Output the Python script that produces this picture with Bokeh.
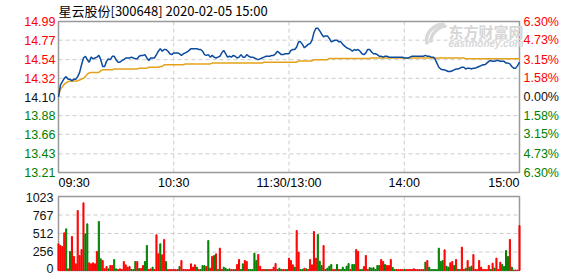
from bokeh.plotting import figure
from bokeh.models import Range1d, ColumnDataSource
from bokeh.layouts import column
from bokeh.embed import file_html
from bokeh.resources import INLINE
from bokeh.core.properties import value

# ---------------- data ----------------
title_text = "星云股份[300648] 2020-02-05 15:00"
prev_close = 14.10

price_ticks = [14.99, 14.77, 14.54, 14.32, 14.10, 13.88, 13.66, 13.43, 13.21]
price_labels = ["14.99", "14.77", "14.54", "14.32", "14.10", "13.88", "13.66", "13.43", "13.21"]
pct_labels = ["6.30%", "4.73%", "3.15%", "1.58%", "0.00%", "1.58%", "3.15%", "4.73%", "6.30%"]
label_side = ["up", "up", "up", "up", "flat", "down", "down", "down", "down"]

time_ticks = [0, 60, 120, 180, 240]
time_labels = ["09:30", "10:30", "11:30/13:00", "14:00", "15:00"]

vol_ticks = [1023, 767, 512, 256, 0]
vol_labels = ["1023", "767", "512", "256", "0"]

minutes = list(range(241))

price = [
    14.10, 14.24, 14.28, 14.32, 14.34, 14.31, 14.31, 14.29, 14.31, 14.31,
    14.34, 14.39, 14.48, 14.56, 14.58, 14.54, 14.51, 14.57, 14.55, 14.56,
    14.57, 14.59, 14.54, 14.46, 14.46, 14.52, 14.55, 14.54, 14.58, 14.58,
    14.54, 14.51, 14.51, 14.53, 14.54, 14.56, 14.56, 14.56, 14.57, 14.56,
    14.55, 14.55, 14.58, 14.59, 14.59, 14.60, 14.56, 14.53, 14.56, 14.56,
    14.56, 14.60, 14.64, 14.67, 14.64, 14.66, 14.66, 14.64, 14.61, 14.60,
    14.62, 14.62, 14.62, 14.61, 14.59, 14.61, 14.62, 14.63, 14.65, 14.67,
    14.67, 14.67, 14.67, 14.66, 14.66, 14.64, 14.60, 14.59, 14.60, 14.57,
    14.59, 14.57, 14.56, 14.57, 14.58, 14.62, 14.65, 14.61, 14.57, 14.58,
    14.57, 14.59, 14.58, 14.56, 14.57, 14.60, 14.57, 14.57, 14.60, 14.58,
    14.57, 14.57, 14.56, 14.55, 14.54, 14.55, 14.56, 14.57, 14.58, 14.58,
    14.58, 14.59, 14.59, 14.61, 14.64, 14.62, 14.60, 14.60, 14.61, 14.61,
    14.61, 14.65, 14.66, 14.66, 14.69, 14.75, 14.75, 14.72, 14.68, 14.70,
    14.72, 14.73, 14.77, 14.86, 14.91, 14.91, 14.88, 14.84, 14.81, 14.82,
    14.82, 14.79, 14.75, 14.76, 14.77, 14.77, 14.75, 14.75, 14.72, 14.70,
    14.68, 14.67, 14.66, 14.64, 14.66, 14.65, 14.66, 14.64, 14.61, 14.60,
    14.62, 14.66, 14.66, 14.63, 14.61, 14.61, 14.60, 14.58, 14.58, 14.57,
    14.58, 14.58, 14.57, 14.57, 14.57, 14.57, 14.57, 14.57, 14.57, 14.57,
    14.56, 14.56, 14.56, 14.57, 14.58, 14.58, 14.58, 14.58, 14.58, 14.58,
    14.58, 14.59, 14.58, 14.58, 14.57, 14.57, 14.55, 14.50, 14.45, 14.43,
    14.42, 14.42, 14.41, 14.40, 14.40, 14.41, 14.42, 14.43, 14.43, 14.44,
    14.45, 14.45, 14.43, 14.44, 14.44, 14.43, 14.44, 14.44, 14.45, 14.46,
    14.47, 14.48, 14.48, 14.50, 14.52, 14.53, 14.52, 14.52, 14.53, 14.53,
    14.52, 14.52, 14.52, 14.50, 14.50, 14.49, 14.46, 14.44, 14.44, 14.47, 14.51,
]

avg_price = [
    14.12, 14.19, 14.22, 14.25, 14.27, 14.28, 14.29, 14.29, 14.29, 14.29,
    14.29, 14.30, 14.31, 14.32, 14.34, 14.37, 14.385, 14.39, 14.39, 14.39,
    14.39, 14.39, 14.41, 14.42, 14.42, 14.42, 14.42, 14.42, 14.42, 14.43,
    14.43, 14.43, 14.43, 14.43, 14.43, 14.43, 14.43, 14.43, 14.43, 14.43,
    14.43, 14.43, 14.44, 14.44, 14.44, 14.44, 14.44, 14.45, 14.45, 14.45,
    14.45, 14.45, 14.45, 14.46, 14.46, 14.48, 14.48, 14.48, 14.48, 14.48,
    14.48, 14.48, 14.48, 14.48, 14.48, 14.48, 14.49, 14.49, 14.49, 14.49,
    14.49, 14.49, 14.49, 14.49, 14.49, 14.49, 14.49, 14.49, 14.49, 14.49,
    14.50, 14.50, 14.50, 14.50, 14.50, 14.50, 14.50, 14.50, 14.50, 14.50,
    14.50, 14.50, 14.50, 14.50, 14.50, 14.50, 14.50, 14.50, 14.50, 14.50,
    14.50, 14.50, 14.50, 14.50, 14.50, 14.50, 14.50, 14.51, 14.51, 14.51,
    14.51, 14.51, 14.51, 14.51, 14.51, 14.51, 14.51, 14.51, 14.51, 14.51,
    14.51, 14.51, 14.51, 14.51, 14.51, 14.525, 14.525, 14.525, 14.525, 14.525,
    14.525, 14.525, 14.525, 14.54, 14.54, 14.54, 14.54, 14.54, 14.54, 14.54,
    14.54, 14.555, 14.555, 14.555, 14.555, 14.555, 14.555, 14.555, 14.555, 14.555,
    14.555, 14.555, 14.555, 14.555, 14.555, 14.555, 14.555, 14.555, 14.555, 14.555,
    14.555, 14.555, 14.555, 14.56, 14.56, 14.56, 14.56, 14.56, 14.56, 14.56,
    14.56, 14.56, 14.56, 14.56, 14.56, 14.56, 14.56, 14.56, 14.56, 14.56,
    14.56, 14.56, 14.56, 14.56, 14.56, 14.56, 14.56, 14.56, 14.56, 14.56,
    14.56, 14.56, 14.56, 14.56, 14.56, 14.56, 14.56, 14.56, 14.56, 14.56,
    14.56, 14.56, 14.56, 14.56, 14.56, 14.56, 14.56, 14.56, 14.56, 14.56,
    14.56, 14.56, 14.55, 14.55, 14.55, 14.55, 14.55, 14.55, 14.55, 14.55,
    14.55, 14.55, 14.55, 14.55, 14.55, 14.55, 14.55, 14.55, 14.55, 14.55,
    14.55, 14.55, 14.55, 14.55, 14.55, 14.55, 14.55, 14.55, 14.55, 14.55, 14.55,
]

volume = [
    369, 346, 332, 521, 576, 23, 263, 470, 194, 92,
    829, 207, 290, 935, 507, 645, 106, 92, 106, 92,
    263, 677, 161, 138, 23, 55, 23, 69, 69, 152,
    23, 14, 23, 14, 124, 78, 46, 55, 14, 14,
    124, 124, 28, 28, 69, 124, 346, 14, 23, 46,
    14, 493, 230, 369, 217, 429, 124, 14, 14, 14,
    14, 14, 14, 55, 138, 14, 14, 14, 14, 92,
    46, 78, 46, 14, 14, 69, 69, 55, 415, 32,
    194, 207, 230, 14, 309, 14, 46, 32, 14, 23,
    14, 14, 14, 83, 152, 14, 92, 138, 124, 14,
    14, 14, 240, 138, 221, 60, 14, 14, 14, 14,
    14, 14, 46, 97, 14, 32, 14, 14, 14, 14,
    170, 138, 78, 46, 553, 253, 14, 14, 32, 23,
    14, 152, 78, 539, 170, 498, 129, 69, 346, 14,
    32, 60, 83, 14, 14, 83, 14, 14, 46, 14,
    60, 97, 14, 83, 83, 290, 263, 14, 14, 55,
    207, 14, 41, 32, 41, 14, 69, 69, 152, 124,
    83, 69, 69, 152, 41, 14, 14, 14, 14, 14,
    14, 14, 14, 14, 14, 23, 14, 14, 14, 14,
    14, 115, 138, 46, 14, 14, 14, 14, 309, 124,
    138, 286, 60, 46, 106, 124, 69, 152, 14, 14,
    323, 14, 32, 138, 46, 60, 221, 14, 14, 138,
    46, 14, 14, 14, 69, 14, 101, 32, 170, 14,
    115, 83, 55, 276, 194, 429, 46, 5, 5, 5, 622,
]

# "r" = up minute (red bar), "g" = down minute (green bar), ten minutes per row
direction_rows = [
    "rrrrgrgrrr", "rrrrggrrrr", "rggrrrgrrg", "grrrrrrrgg", "grgrrggrrg",
    "rrrgrrgrrr", "rrrgrrrrrr", "rrgrgggrgr", "rgrgrrgggg", "rrgrrggrrg",
    "ggggrrrrgr", "rrrrrggrrg", "rrrgrrggrg", "rrrrrgggrr", "gggrrgrggg",
    "ggrggrrggr", "rrggggggrr", "grrrggrrrr", "grrrrrrrrr", "rgrggggggg",
    "grggrrgrgr", "rrgrggrrrr", "rrrrrgrgrr", "rggggrgrrrr",
]
direction = "".join(direction_rows)

# ---------------- styling / layout ----------------
RED = "#ff0000"
GREEN = "#008000"
DARK = "#111111"
GRID = "#cccccc"
BORDER = "#999999"
FONT = "Liberation Sans"
FS = "12.5px"

W = 578
PX_L, PX_R = 58, 519              # panel left / right edge (px)
P_H, P_TOP, P_BOT = 190, 21, 172  # price canvas height, panel top/bottom (px)
V_H, V_TOP, V_BOT = 86, 6, 80     # volume canvas height, panel top/bottom (px)

xs = 240 / (PX_R - PX_L)
x_range = Range1d(0 - PX_L * xs, 240 + (W - PX_R) * xs)

pk = (price_ticks[0] - price_ticks[-1]) / (P_BOT - P_TOP)
p_range = Range1d(price_ticks[-1] - (P_H - P_BOT) * pk, price_ticks[0] + P_TOP * pk)
vk = vol_ticks[0] / (V_BOT - V_TOP)
v_range = Range1d(0 - (V_H - V_BOT) * vk, vol_ticks[0] + V_TOP * vk)

side_color = {"up": RED, "flat": DARK, "down": GREEN}
bar_colors = [RED if d == "r" else GREEN for d in direction]


def base_fig(h, yr):
    f = figure(width=W, height=h, x_range=x_range, y_range=yr,
               x_axis_location=None, y_axis_location=None,
               toolbar_location=None, output_backend="svg",
               min_border=0)
    f.outline_line_color = None
    f.xgrid.visible = False
    f.ygrid.visible = False
    f.background_fill_color = "white"
    f.border_fill_color = "white"
    return f


def panel(f, y0, y1, yticks):
    f.segment(x0=[60, 120, 180], y0=y0, x1=[60, 120, 180], y1=y1,
              line_color=GRID, line_dash="4 3", line_width=1)
    f.segment(x0=0, y0=yticks, x1=240, y1=yticks,
              line_color=GRID, line_dash="4 3", line_width=1)
    f.quad(left=0, right=240, bottom=y0, top=y1, fill_color=None,
           line_color=BORDER, line_width=1.5)


# ---------------- price panel ----------------
p = base_fig(P_H, p_range)
panel(p, price_ticks[-1], price_ticks[0], price_ticks[1:-1])

# watermark (logo strokes + text)
p.bezier(x0=[192, 194], y0=[14.72, 14.74], x1=[201, 202], y1=[14.96, 14.93],
         cx0=[190, 193], cy0=[14.86, 14.84], cx1=[196, 199], cy1=[14.96, 14.95],
         line_color="#d8d8d8", line_width=3.5)
p.text(x=[203], y=[14.87], text=["东方财富网"], text_font=value("Noto Sans CJK SC"),
       text_font_style="bold", text_font_size="15px", text_color="#d6d6d6",
       text_baseline="middle", text_align="left")
p.text(x=[203], y=[14.73], text=["eastmoney.com"], text_font=value(FONT),
       text_font_style="bold italic", text_font_size="10px", text_color="#d6d6d6",
       text_baseline="middle", text_align="left")

p.line(minutes, avg_price, line_color="#e3a21a", line_width=1.5)
p.line(minutes, price, line_color="#0b4c9e", line_width=1.5)

tick_src = ColumnDataSource(dict(
    x0=[0] * len(price_ticks), x1=[240] * len(price_ticks),
    y=price_ticks, text=price_labels, pct=pct_labels,
    color=[side_color[s] for s in label_side]))
p.text(x="x0", y="y", text="text", source=tick_src, x_offset=-3,
       text_align="right", text_baseline="middle", text_color="color",
       text_font=value(FONT), text_font_size=FS)
p.text(x="x1", y="y", text="pct", source=tick_src, x_offset=4,
       text_align="left", text_baseline="middle", text_color="color",
       text_font=value(FONT), text_font_size=FS)

title_y = price_ticks[0] + 11 * pk
p.text(x=[0], y=[title_y], text=[title_text], text_font=value("Noto Sans CJK SC"),
       text_font_size="13px", text_color="#000000", text_baseline="middle",
       text_align="left")

xlab_y = price_ticks[-1] - 10 * pk
p.text(x=[time_ticks[0]], y=[xlab_y], text=[time_labels[0]], text_align="left",
       text_baseline="middle", text_font=value(FONT), text_font_size=FS,
       text_color="#000000")
p.text(x=time_ticks[1:4], y=[xlab_y] * 3, text=time_labels[1:4], text_align="center",
       text_baseline="middle", text_font=value(FONT), text_font_size=FS,
       text_color="#000000")
p.text(x=[time_ticks[4]], y=[xlab_y], text=[time_labels[4]], text_align="right",
       text_baseline="middle", text_font=value(FONT), text_font_size=FS,
       text_color="#000000")

# ---------------- volume panel ----------------
v = base_fig(V_H, v_range)
panel(v, 0, vol_ticks[0], vol_ticks[1:-1])

vsrc = ColumnDataSource(dict(x=minutes, top=volume, color=bar_colors))
v.vbar(x="x", top="top", bottom=0, width=0.55, color="color", source=vsrc)

vol_src = ColumnDataSource(dict(x=[0] * len(vol_ticks), y=vol_ticks, text=vol_labels,
                                yoff=[1, 0, 0, 0, -2]))
v.text(x="x", y="y", text="text", source=vol_src, x_offset=-5, y_offset="yoff",
       text_align="right", text_baseline="middle", text_color=DARK,
       text_font=value(FONT), text_font_size=FS)

layout = column(p, v, spacing=0)
open("out.html", "w").write(file_html(layout, INLINE))
